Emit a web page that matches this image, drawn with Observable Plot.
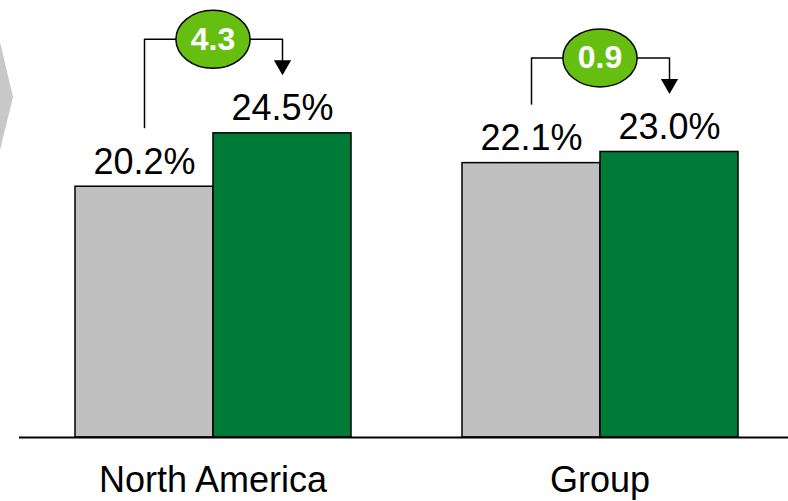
<!DOCTYPE html>
<html>
<head>
<meta charset="utf-8">
<script src="https://cdn.jsdelivr.net/npm/d3@7"></script>
<script src="https://cdn.jsdelivr.net/npm/@observablehq/plot@0.6"></script>
<style>
  html, body { margin: 0; padding: 0; background: #fff; }
  #wrap { position: relative; width: 788px; height: 501px; overflow: hidden; }
  #chevron { position: absolute; left: 0; top: 42px; width: 13px; height: 108px; background: #c8c8c8;
             clip-path: polygon(0 0, 100% 51%, 0 100%); }
  #chart { position: absolute; left: 0; top: 0; }
</style>
</head>
<body>
<div id="wrap"><div id="chart"></div><div id="chevron"></div></div>
<script>
const regions = ["North America", "Group"];
const periods = ["Prior", "Current"];
const prevValues = [20.2, 22.1];
const curValues = [24.5, 23.0];
const deltaLabels = ["4.3", "0.9"];

const bars = regions.flatMap((r, i) => [
  {region: r, period: periods[0], value: prevValues[i]},
  {region: r, period: periods[1], value: curValues[i]}
]);
const deltas = regions.map((r, i) => ({region: r, prev: prevValues[i], cur: curValues[i], label: deltaLabels[i]}));

const ellipse = {
  draw(ctx, size) {
    const ry = Math.sqrt(size / Math.PI), rx = ry * 1.28, k = 0.5523;
    ctx.moveTo(rx, 0);
    ctx.bezierCurveTo(rx, k * ry, k * rx, ry, 0, ry);
    ctx.bezierCurveTo(-k * rx, ry, -rx, k * ry, -rx, 0);
    ctx.bezierCurveTo(-rx, -k * ry, -k * rx, -ry, 0, -ry);
    ctx.bezierCurveTo(k * rx, -ry, rx, -k * ry, rx, 0);
    ctx.closePath();
  }
};

const chart = Plot.plot({
  width: 788,
  height: 501,
  marginTop: 0,
  marginBottom: 64,
  marginLeft: 24,
  marginRight: 0,
  style: {background: "transparent", fontFamily: "'Liberation Sans', Arial, sans-serif", color: "black"},
  fx: {domain: regions, paddingInner: 0.2835, paddingOuter: 0.1263, axis: null},
  x: {domain: periods, padding: 0, axis: null},
  y: {domain: [0, 35.2], axis: null},
  color: {domain: periods, range: ["#c0c0c0", "#007a37"]},
  marks: [
    Plot.barY(bars, {fx: "region", x: "period", y: "value", fill: "period", stroke: "black", strokeWidth: 1.5}),
    Plot.ruleY([0], {insetLeft: -55, insetRight: -55, stroke: "black", strokeWidth: 2}),
    Plot.text(bars, {fx: "region", x: "period", y: "value", text: d => d.value.toFixed(1) + "%",
      lineAnchor: "bottom", dy: -13, fontSize: 36, fill: "black"}),
    Plot.ruleX(deltas, {fx: "region", x: () => periods[0], y1: "prev", y2: "cur", insetTop: -58, insetBottom: 94, stroke: "black", strokeWidth: 1.5}),
    Plot.link(deltas, {fx: "region", x1: () => periods[0], x2: () => periods[1], y1: "cur", y2: "cur", dy: -94, stroke: "black", strokeWidth: 1.5}),
    Plot.ruleX(deltas, {fx: "region", x: () => periods[1], y1: "cur", y2: "cur", insetTop: -64, insetBottom: 94, stroke: "black", strokeWidth: 1.5}),
    Plot.dot(deltas, {fx: "region", x: () => periods[1], y: "cur", symbol: "triangle", r: 6.4, rotate: 180, dy: -68, fill: "black", stroke: "none"}),
    Plot.dot(deltas, {fx: "region", y: "cur", dy: -94, symbol: ellipse, r: 29, fill: "#66bf10", stroke: "black", strokeWidth: 1.5, frameAnchor: "middle"}),
    Plot.text(deltas, {fx: "region", y: "cur", dy: -94, text: "label", fill: "white", fontWeight: "bold", fontSize: 32, frameAnchor: "middle"}),
    Plot.axisFx({anchor: "bottom", tickSize: 0, tickPadding: 29, fontSize: 36, label: null})
  ]
});
document.getElementById("chart").appendChild(chart);
</script>
</body>
</html>
